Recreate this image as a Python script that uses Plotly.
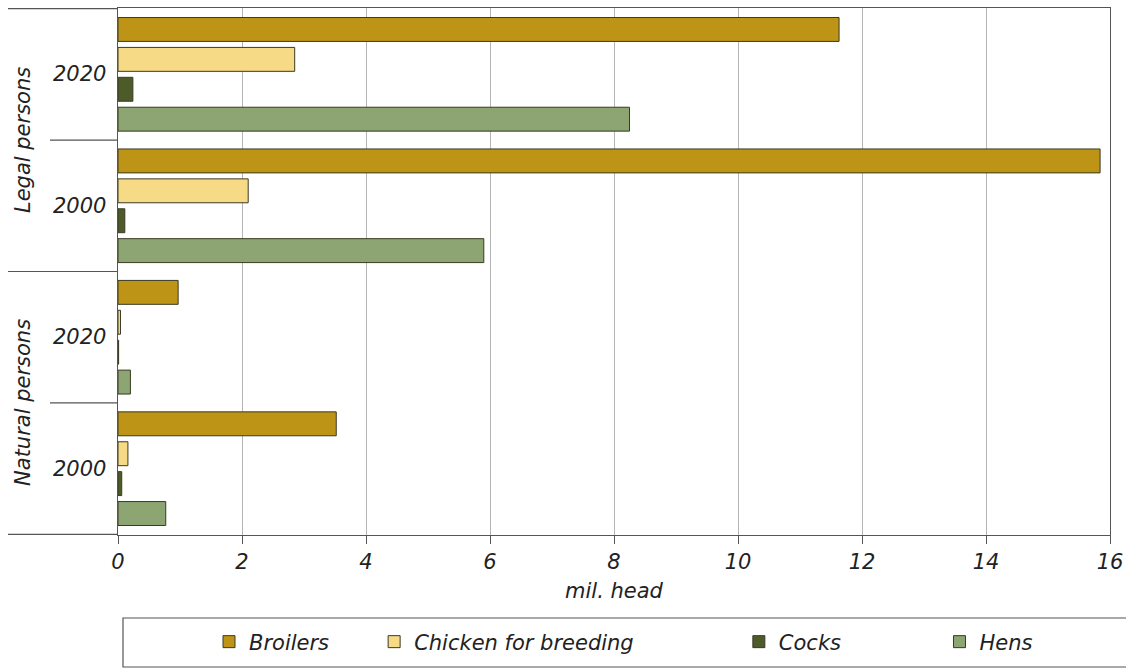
import plotly.graph_objects as go

categories = ["Legal 2020", "Legal 2000", "Natural 2020", "Natural 2000"]
year_labels = ["2020", "2000", "2020", "2000"]
group_labels = ["Legal persons", "Natural persons"]
series_names = ["Broilers", "Chicken for breeding", "Cocks", "Hens"]
broilers = [11.63, 15.84, 0.97, 3.52]
chicken = [2.85, 2.10, 0.04, 0.16]
cocks = [0.24, 0.11, 0.01, 0.06]
hens = [8.25, 5.90, 0.20, 0.77]
x_ticks = [0, 2, 4, 6, 8, 10, 12, 14, 16]

colors = ["#BE9416", "#F6DA86", "#4D5A2A", "#8CA572"]
values = [broilers, chicken, cocks, hens]
# spacing after each legend entry (non-breaking spaces), mimicking the spread-out legend
legend_pad = [6, 15, 14, 0]

FONT = "DejaVu Sans, sans-serif"
FS = 21
TXT = "#222222"

OX, OY = 0, 0
PL, PR, PT, PB = 118, 1110, 8, 535   # plot area on screen
W = PR - PL
H = PB - PT
FIG_W = 1126
FIG_H = 668


def px(xs):
    return (xs - PL) / W


def py(ys):
    return (PB - ys) / H


fig = go.Figure()
for name, vals, col, pad in zip(series_names, values, colors, legend_pad):
    fig.add_trace(go.Bar(
        y=categories, x=vals, name="<i>" + name + "</i>" + "&nbsp;" * pad, orientation="h",
        marker=dict(color=col, line=dict(color="#3a3a22", width=1)),
    ))

shapes = []
for ypos, xstart in [(-0.5, 8), (0.5, 50), (1.5, 8), (2.5, 50), (3.5, 8)]:
    shapes.append(dict(type="line", xref="paper", yref="y", x0=px(xstart), x1=0,
                       y0=ypos, y1=ypos, line=dict(color="#555555", width=1.2)))
# legend frame
shapes.append(dict(type="rect", xref="paper", yref="paper",
                   x0=px(123), x1=px(1140), y0=py(618), y1=py(667),
                   line=dict(color="#555555", width=1.2)))

annotations = []
for cat, yl in zip(categories, year_labels):
    annotations.append(dict(xref="paper", yref="y", x=px(108), y=cat, text="<i>" + yl + "</i>",
                            xanchor="right", yanchor="middle", showarrow=False,
                            font=dict(family=FONT, size=FS, color=TXT)))
for ypos, gl in zip([0.5, 2.5], group_labels):
    annotations.append(dict(xref="paper", yref="y", x=px(23), y=ypos, text="<i>" + gl + "</i>",
                            xanchor="center", yanchor="middle", showarrow=False, textangle=-90,
                            font=dict(family=FONT, size=FS, color=TXT)))

fig.update_layout(
    width=FIG_W, height=FIG_H,
    margin=dict(l=PL - OX, r=FIG_W - (PR - OX), t=PT - OY, b=FIG_H - (PB - OY), autoexpand=False),
    paper_bgcolor="white", plot_bgcolor="white",
    barmode="group", bargap=0.09, bargroupgap=0.2,
    font=dict(family=FONT, size=FS, color=TXT),
    showlegend=True,
    legend=dict(orientation="h", x=px(209), xanchor="left", y=py(642),
                yanchor="middle", font=dict(family=FONT, size=FS, color=TXT),
                itemwidth=30, bgcolor="rgba(0,0,0,0)"),
    shapes=shapes, annotations=annotations,
    xaxis=dict(range=[0, 16], tickvals=x_ticks, ticktext=["<i>%d</i>" % t for t in x_ticks],
               showgrid=True, gridcolor="#b5b5b5", gridwidth=1,
               showline=True, linecolor="#555555", linewidth=1.2, mirror=True,
               ticks="outside", ticklen=8, tickcolor="#555555", zeroline=False,
               ticklabeloverflow="allow",
               tickfont=dict(family=FONT, size=FS, color=TXT),
               title=dict(text="<i>mil. head</i>", standoff=10,
                          font=dict(family=FONT, size=FS, color=TXT))),
    yaxis=dict(categoryorder="array", categoryarray=categories, autorange="reversed",
               showticklabels=False, showgrid=False, ticks="",
               showline=True, linecolor="#555555", linewidth=1.2, mirror=True),
)

fig.write_html("out.html", config={"displayModeBar": False},
               post_script="document.body.style.margin='0';document.body.style.overflow='hidden';")
